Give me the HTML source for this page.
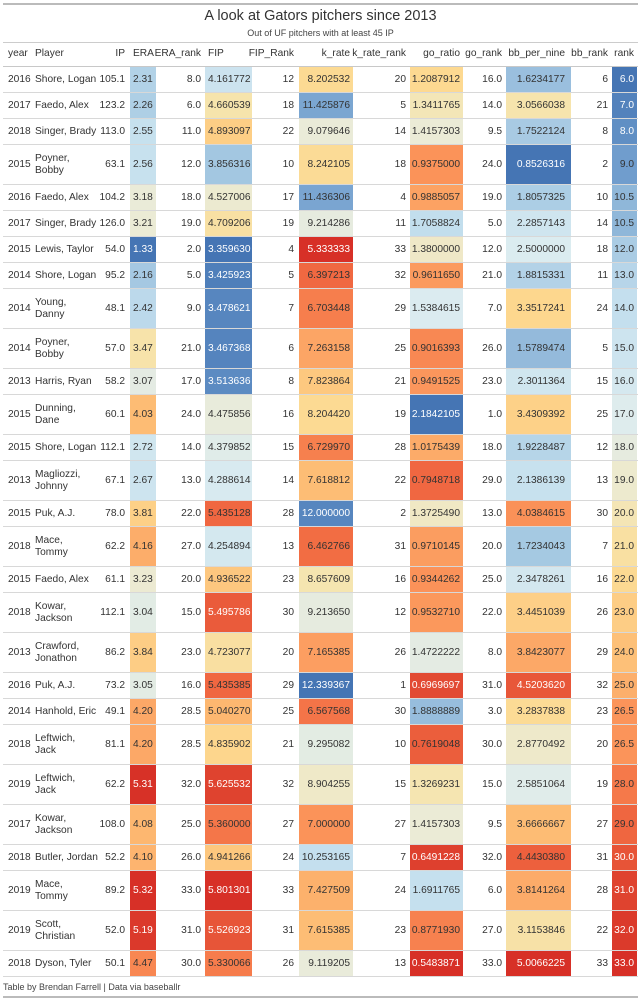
<!DOCTYPE html>
<html><head><meta charset="utf-8">
<style>
body{margin:0;width:641px;height:1000px;background:#fff;font-family:"Liberation Sans",sans-serif;color:#333;overflow:hidden;position:relative}
.a{position:absolute;white-space:nowrap;box-sizing:border-box}
.c{position:absolute;box-sizing:border-box;display:flex;align-items:center;font-size:10.2px;line-height:12.5px;white-space:nowrap}
.hl{position:absolute;left:3px;width:635px;height:1px;background:#d8d8d8}
</style></head>
<body>
<div class="a" style="left:3px;top:3px;width:635px;height:2px;background:#bbb"></div>
<div class="a" style="left:0;width:641px;top:8px;text-align:center;font-size:14.5px">A look at Gators pitchers since 2013</div>
<div class="a" style="left:0;width:641px;top:28px;text-align:center;font-size:9px;color:#444">Out of UF pitchers with at least 45 IP</div>
<div class="a" style="left:3px;top:42px;width:635px;height:1px;background:#ccc"></div>
<div id="tbl"></div>
<div class="a" style="left:3px;top:982px;font-size:9px;color:#444">Table by Brendan Farrell | Data via baseballr</div>
<div class="a" style="left:3px;top:996px;width:635px;height:2px;background:#bbb"></div>
<script>
const years=[2016,2017,2018,2015,2016,2017,2015,2014,2014,2014,2013,2015,2015,2013,2015,2018,2015,2018,2013,2016,2014,2018,2019,2017,2018,2019,2019,2018];
const players=["Shore, Logan","Faedo, Alex","Singer, Brady","Poyner,|Bobby","Faedo, Alex","Singer, Brady","Lewis, Taylor","Shore, Logan","Young,|Danny","Poyner,|Bobby","Harris, Ryan","Dunning,|Dane","Shore, Logan","Magliozzi,|Johnny","Puk, A.J.","Mace,|Tommy","Faedo, Alex","Kowar,|Jackson","Crawford,|Jonathon","Puk, A.J.","Hanhold, Eric","Leftwich,|Jack","Leftwich,|Jack","Kowar,|Jackson","Butler, Jordan","Mace,|Tommy","Scott,|Christian","Dyson, Tyler"];
const ip=["105.1","123.2","113.0","63.1","104.2","126.0","54.0","95.2","48.1","57.0","58.2","60.1","112.1","67.1","78.0","62.2","61.1","112.1","86.2","73.2","49.1","81.1","62.2","108.0","52.2","89.2","52.0","50.1"];
const era=[2.31,2.26,2.55,2.56,3.18,3.21,1.33,2.16,2.42,3.47,3.07,4.03,2.72,2.67,3.81,4.16,3.23,3.04,3.84,3.05,4.20,4.20,5.31,4.08,4.10,5.32,5.19,4.47];
const eraRank=[8,6,11,12,18,19,2,5,9,21,17,24,14,13,22,27,20,15,23,16,28.5,28.5,32,25,26,33,31,30];
const fip=[4.161772,4.660539,4.893097,3.856316,4.527006,4.709206,3.359630,3.425923,3.478621,3.467368,3.513636,4.475856,4.379852,4.288614,5.435128,4.254894,4.936522,5.495786,4.723077,5.435385,5.040270,4.835902,5.625532,5.360000,4.941266,5.801301,5.526923,5.330066];
const fipRank=[12,18,22,10,17,19,4,5,7,6,8,16,15,14,28,13,23,30,20,29,25,21,32,27,24,33,31,26];
const kRate=[8.202532,11.425876,9.079646,8.242105,11.436306,9.214286,5.333333,6.397213,6.703448,7.263158,7.823864,8.204420,6.729970,7.618812,12.000000,6.462766,8.657609,9.213650,7.165385,12.339367,6.567568,9.295082,8.904255,7.000000,10.253165,7.427509,7.615385,9.119205];
const kRank=[20,5,14,18,4,11,33,32,29,25,21,19,28,22,2,31,16,12,26,1,30,10,15,27,7,24,23,13];
const goRatio=[1.2087912,1.3411765,1.4157303,0.9375000,0.9885057,1.7058824,1.3800000,0.9611650,1.5384615,0.9016393,0.9491525,2.1842105,1.0175439,0.7948718,1.3725490,0.9710145,0.9344262,0.9532710,1.4722222,0.6969697,1.8888889,0.7619048,1.3269231,1.4157303,0.6491228,1.6911765,0.8771930,0.5483871];
const goRank=[16,14,9.5,24,19,5,12,21,7,26,23,1,18,29,13,20,25,22,8,31,3,30,15,9.5,32,6,27,33];
const bb9=[1.6234177,3.0566038,1.7522124,0.8526316,1.8057325,2.2857143,2.5000000,1.8815331,3.3517241,1.5789474,2.3011364,3.4309392,1.9228487,2.1386139,4.0384615,1.7234043,2.3478261,3.4451039,3.8423077,4.5203620,3.2837838,2.8770492,2.5851064,3.6666667,4.4430380,3.8141264,3.1153846,5.0066225];
const bbRank=[6,21,8,2,10,14,18,11,24,5,15,25,12,13,30,7,16,26,29,32,23,20,19,27,31,28,22,33];
const rank=[6,7,8,9,10.5,10.5,12,13,14,15,16,17,18,19,20,21,22,23,24,25,26.5,26.5,28,29,30,31,32,33];

const stops=[[0,'#4575b4'],[0.1,'#6a98ca'],[0.2,'#a2c6e1'],[0.3,'#c5e0ee'],[0.4,'#dcecf0'],[0.47,'#ebebd6'],[0.53,'#f6e4ad'],[0.6,'#fdd88f'],[0.68,'#fdbb73'],[0.76,'#fb945a'],[0.84,'#f26c43'],[0.92,'#e04530'],[1,'#d73027']];
function hx(h){return [1,3,5].map(i=>parseInt(h.substr(i,2),16));}
function col(t){t=Math.max(0,Math.min(1,t));for(let i=1;i<stops.length;i++){if(t<=stops[i][0]){const a=stops[i-1],b=stops[i];const f=(t-a[0])/(b[0]-a[0]);const A=hx(a[1]),B=hx(b[1]);return 'rgb('+A.map((v,k)=>Math.round(v+(B[k]-v)*f)).join(',')+')';}}return stops[stops.length-1][1];}
function scale(arr,rev){const mn=Math.min(...arr),mx=Math.max(...arr);return v=>rev?(mx-v)/(mx-mn):(v-mn)/(mx-mn);}
const sEra=scale(era),sFip=scale(fip),sK=scale(kRate,true),sGo=scale(goRatio,true),sBb=scale(bb9),sRank=scale(rank);

const cols=[
 ['year',3,30,'left',5],['Player',33,70,'left',2],['IP',100,27,'right',2],['ERA',130,26,'left',3],
 ['ERA_rank',156,49,'right',4],['FIP',205,47,'left',3],['FIP_Rank',252,46,'right',4],['k_rate',299,54,'right',3],
 ['k_rate_rank',353,57,'right',4],['go_ratio',410,53,'right',3],['go_rank',463,43,'right',4],['bb_per_nine',506,65,'right',6],
 ['bb_rank',571,41,'right',4],['rank',612,25,'right',3]];
const tbl=document.getElementById('tbl');
const names=['year','player','ip','era','era-rank','fip','fip-rank','k-rate','k-rate-rank','go-ratio','go-rank','bb-per-nine','bb-rank','rank'];
function cell(text,ci,top,h,bg,fg,isHead,r){
  const c=cols[ci];const d=document.createElement('div');d.className='c';
  d.style.left=c[1]+'px';d.style.top=top+'px';d.style.width=c[2]+'px';d.style.height=h+'px';
  d.style.justifyContent=c[3]==='right'?'flex-end':'flex-start';
  d.style.padding='0 '+c[4]+'px';
  if(bg)d.style.background=bg;if(fg)d.style.color=fg;
  if(isHead){d.style.color='#333';d.style.overflow='visible';}
  d.innerHTML=text;
  if(isHead){}
  else{}
  
  tbl.appendChild(d);
}
cols.forEach((c,i)=>cell(c[0],i,43,23,null,null,true,0));
const hr=document.createElement('div');hr.className='hl';hr.style.top='66px';hr.style.background='#c8c8c8';


tbl.appendChild(hr);
function fc(t){return (t<0.09||t>0.87)?'#fff':'#333';}
let y=67;
for(let r=0;r<years.length;r++){
  const two=players[r].indexOf('|')>=0;const h=two?40:26;
  const f1=v=>v.toFixed(1);
  const tE=sEra(era[r]),tF=sFip(fip[r]),tK=sK(kRate[r]),tG=sGo(goRatio[r]),tB=sBb(bb9[r]),tR=sRank(rank[r]);
  cell(String(years[r]),0,y,h,null,null,false,r);
  cell(players[r].replace('|','<br>'),1,y,h,null,null,false,r);
  cell(ip[r],2,y,h,null,null,false,r);
  cell(era[r].toFixed(2),3,y,h,col(tE),fc(tE),false,r);
  cell(f1(eraRank[r]),4,y,h,null,null,false,r);
  cell(fip[r].toFixed(6),5,y,h,col(tF),fc(tF),false,r);
  cell(String(fipRank[r]),6,y,h,null,null,false,r);
  cell(kRate[r].toFixed(6),7,y,h,col(tK),fc(tK),false,r);
  cell(String(kRank[r]),8,y,h,null,null,false,r);
  cell(goRatio[r].toFixed(7),9,y,h,col(tG),fc(tG),false,r);
  cell(f1(goRank[r]),10,y,h,null,null,false,r);
  cell(bb9[r].toFixed(7),11,y,h,col(tB),fc(tB),false,r);
  cell(String(bbRank[r]),12,y,h,null,null,false,r);
  cell(f1(rank[r]),13,y,h,col(tR),fc(tR),false,r);
  y+=h;
  const l=document.createElement('div');l.className='hl';l.style.top=(y-1)+'px';
  
  
  tbl.appendChild(l);
}
</script>
</body></html>
